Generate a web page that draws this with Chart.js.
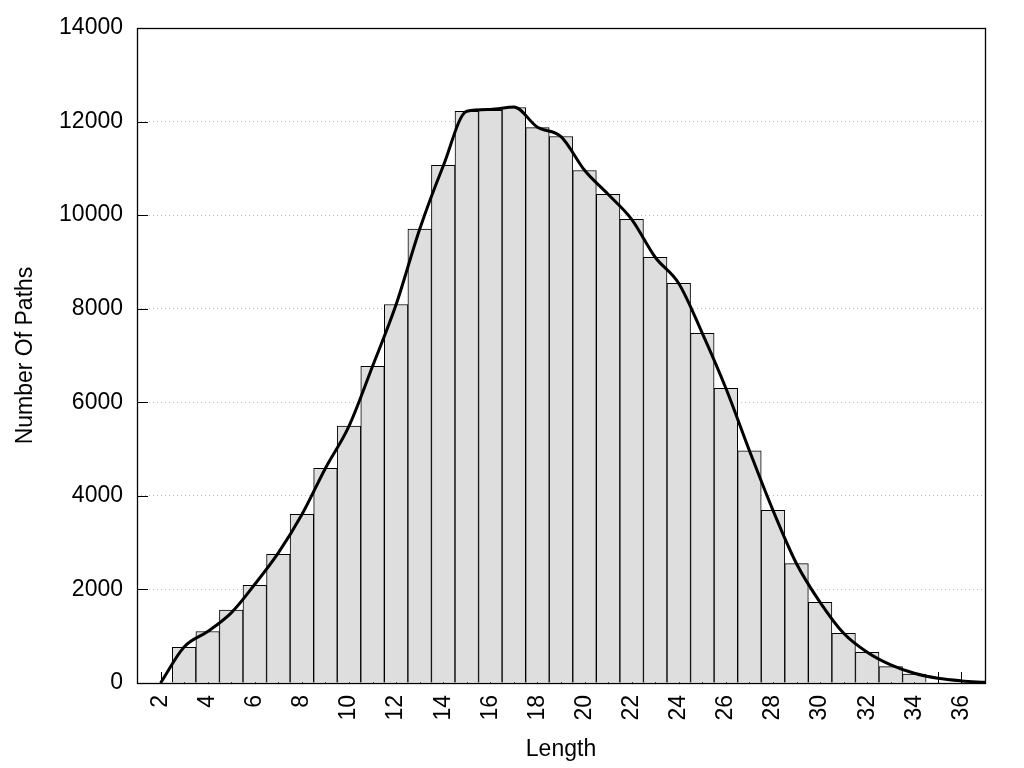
<!DOCTYPE html>
<html>
<head>
<meta charset="utf-8">
<title>Number of paths by length</title>
<script src="https://cdn.jsdelivr.net/npm/chart.js@4.4.1/dist/chart.umd.min.js"></script>
<style>
    html, body { margin: 0; padding: 0; background: #fff; }
    canvas { display: block; }
</style>
</head>
<body>
<canvas id="lengthChart" width="1024" height="768"></canvas>
<script>
// histogram bars (one per path length)
const barLengths = [3, 4, 5, 6, 7, 8, 9, 10, 11, 12, 13, 14, 15, 16, 17, 18,
    19, 20, 21, 22, 23, 24, 25, 26, 27, 28, 29, 30, 31, 32, 33, 34];
const pathCounts = [760, 1100, 1560, 2085, 2750, 3606, 4590, 5490, 6770, 8090, 9700, 11065, 12220, 12240, 12300, 11870,
    11680, 10955, 10445, 9910, 9100, 8540, 7475, 6300, 4965, 3690, 2550, 1725, 1062, 656, 350, 190];

// smoothed curve drawn over the bars
const curveLengths = [2, 3, 4, 5, 6, 7, 8, 9, 10, 11, 12, 13, 14, 15, 16, 17, 18, 19,
    20, 21, 22, 23, 24, 25, 26, 27, 28, 29, 30, 31, 32, 33, 34, 35, 36, 37];
const curveCounts = [0, 770, 1100, 1500, 2110, 2780, 3600, 4590, 5490, 6770, 8090, 9700, 11050, 12220, 12260, 12310, 11880, 11680,
    10960, 10445, 9910, 9100, 8540, 7475, 6300, 4965, 3690, 2550, 1725, 1062, 656, 385, 207, 100, 45, 15];

const xTickValues = [2, 4, 6, 8, 10, 12, 14, 16, 18, 20, 22, 24, 26, 28, 30, 32, 34, 36];
const xMinorTicks = [2, 3, 4, 5, 6, 7, 8, 9, 10, 11, 12, 13, 14, 15, 16, 17, 18, 19,
    20, 21, 22, 23, 24, 25, 26, 27, 28, 29, 30, 31, 32, 33, 34, 35, 36];
const yTickValues = [0, 2000, 4000, 6000, 8000, 10000, 12000, 14000];

const font = {family: '"Liberation Sans", Arial, sans-serif', size: 23};

// inward tick marks under the bars, plain frame on top
const frameAndTicks = {
    id: 'frameAndTicks',
    beforeDatasetsDraw(chart) {
        const {ctx, chartArea: area, scales: {x, y}} = chart;
        ctx.save();
        ctx.strokeStyle = '#000';
        ctx.lineWidth = 1;
        ctx.beginPath();
        xMinorTicks.forEach(v => {
            const px = Math.round(x.getPixelForValue(v)) + 0.5;
            ctx.moveTo(px, area.bottom);
            ctx.lineTo(px, area.bottom - 11);
        });
        yTickValues.forEach(v => {
            const py = Math.round(y.getPixelForValue(v)) + 0.5;
            ctx.moveTo(area.left, py);
            ctx.lineTo(area.left + 11, py);
        });
        ctx.stroke();
        ctx.restore();
    },
    afterDraw(chart) {
        const {ctx, chartArea: area} = chart;
        ctx.save();
        ctx.strokeStyle = '#000';
        ctx.lineWidth = 1.3;
        ctx.strokeRect(Math.round(area.left) + 0.5, Math.round(area.top) + 0.5,
            Math.round(area.right - area.left), Math.round(area.bottom - area.top));
        ctx.restore();
    },
};

const barData = barLengths.map((len, i) => ({x: len, y: pathCounts[i]}));
const curveData = curveLengths.map((len, i) => ({x: len, y: curveCounts[i]}));

new Chart(document.getElementById('lengthChart'), {
    type: 'bar',
    data: {
        datasets: [
            {
                type: 'line',
                label: 'Smoothed',
                data: curveData,
                borderColor: '#000',
                borderWidth: 3,
                pointRadius: 0,
                cubicInterpolationMode: 'monotone',
                fill: false,
                order: 0,
            },
            {
                label: 'Number Of Paths',
                data: barData,
                backgroundColor: '#dedede',
                borderColor: '#000',
                borderWidth: 1,
                barPercentage: 1,
                categoryPercentage: 1,
                order: 1,
            },
        ],
    },
    options: {
        responsive: false,
        animation: false,
        layout: {
            padding: {left: 0, right: 39, top: 28, bottom: 0},
        },
        plugins: {
            legend: {display: false},
            tooltip: {enabled: false},
        },
        scales: {
            x: {
                type: 'linear',
                min: 1,
                max: 37,
                offset: false,
                grid: {display: false, drawTicks: false, offset: false},
                border: {display: false},
                afterBuildTicks: scale => {
                    scale.ticks = xTickValues.map(v => ({value: v}));
                },
                afterFit: scale => {
                    scale.height = 85;
                },
                ticks: {
                    autoSkip: false,
                    minRotation: 90,
                    maxRotation: 90,
                    padding: 12,
                    color: '#000',
                    font: font,
                    callback: v => String(v),
                },
                title: {
                    display: true,
                    text: 'Length',
                    color: '#000',
                    font: {...font, lineHeight: 1},
                    padding: {top: 0, bottom: 7},
                },
            },
            y: {
                min: 0,
                max: 14000,
                grid: {
                    drawTicks: false,
                    lineWidth: 1,
                    color: c => (c.tick && (c.tick.value === 0 || c.tick.value === 14000)) ? 'rgba(0,0,0,0)' : '#bdbdbd',
                },
                border: {display: false, dash: [1, 3]},
                afterFit: scale => {
                    scale.width = 137;
                },
                ticks: {
                    stepSize: 2000,
                    padding: 14,
                    color: '#000',
                    font: font,
                    callback: v => String(v),
                },
                title: {
                    display: true,
                    text: 'Number Of Paths',
                    color: '#000',
                    font: {...font, lineHeight: 1},
                    padding: {top: 14, bottom: 0},
                },
            },
        },
    },
    plugins: [frameAndTicks],
});
</script>
</body>
</html>
